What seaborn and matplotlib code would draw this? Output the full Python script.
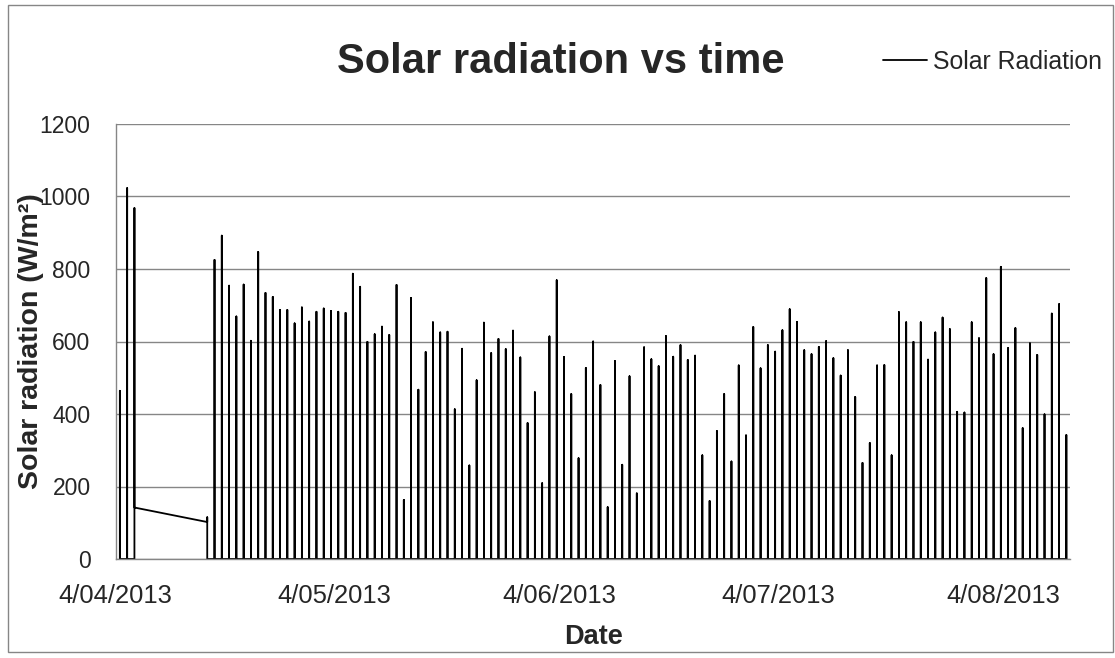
import pandas as pd
import matplotlib
matplotlib.use("Agg")
import matplotlib.pyplot as plt
from matplotlib.patches import Rectangle
import matplotlib.dates as mdates
import seaborn as sns

# ------------------------------ DATA ------------------------------
# daily peak solar radiation (W/m2)
early_dates = ["2013-04-04", "2013-04-05", "2013-04-06"]
early_peaks = [464, 1023, 968]
last_before_gap = 142            # last logged value on 6 April
restart_date = "2013-04-16"
restart_values = [102, 115, 0]   # logger comes back on 16 April

run_start = "2013-04-17"
run_peaks = [
    # April 17-30
    825, 892, 754, 669, 757, 602, 847, 734, 723, 687, 687, 650, 694, 655,
    # May
    682, 691, 684, 682, 679, 787, 751, 599, 620, 641, 618, 756, 163, 720,
    467, 571, 653, 625, 627, 413, 580, 258, 493, 652, 568, 607, 579, 630,
    556, 375, 460,
    # June
    209, 614, 769, 557, 455, 278, 527, 600, 480, 143, 546, 260, 504, 181,
    584, 551, 532, 615, 558, 590, 549, 561, 286, 160, 353, 455, 269, 534,
    341, 640,
    # July
    526, 590, 572, 631, 689, 654, 576, 565, 585, 601, 554, 506, 576, 447,
    265, 320, 534, 535, 286, 681, 653, 599, 653, 550, 625, 666, 634, 406,
    404, 653, 609,
    # August 1-12
    775, 565, 806, 582, 637, 361, 595, 563, 399, 677, 703, 342,
]

tick_dates = ["2013-04-04", "2013-05-04", "2013-06-04", "2013-07-04", "2013-08-04"]
tick_labels = ["4/04/2013", "4/05/2013", "4/06/2013", "4/07/2013", "4/08/2013"]
y_ticks = [0, 200, 400, 600, 800, 1000, 1200]

# ---------------------- BUILD THE LONG SERIES ----------------------
# Excel's date axis puts every reading of one day at the same x,
# so each day becomes a vertical stroke 0 -> peak -> 0
day_pos = pd.Timedelta(hours=14.4)
rows = []
for d, p in zip(early_dates, early_peaks):
    t = pd.Timestamp(d) + day_pos
    end = last_before_gap if d == early_dates[-1] else 0
    rows += [(t, 0), (t, p), (t, end)]

t = pd.Timestamp(restart_date) + day_pos
rows += [(t, v) for v in restart_values]

run_dates = pd.date_range(run_start, periods=len(run_peaks), freq="D")
for d, p in zip(run_dates, run_peaks):
    t = d + day_pos
    rows += [(t, 0), (t, p), (t, 0)]

df = pd.DataFrame(rows, columns=["time", "radiation"])

# ------------------------------ PLOT ------------------------------
sns.set_style("white")
plt.rcParams["font.family"] = ["Liberation Sans", "DejaVu Sans"]

grey = "#868686"
W, H = 1115, 658
fig = plt.figure(figsize=(W / 100, H / 100), dpi=100)
ax = fig.add_axes([115.5 / W, 1 - 559 / H, (1070 - 115.5) / W, (559 - 124) / H])

sns.lineplot(data=df, x="time", y="radiation", sort=False, estimator=None,
             color="black", linewidth=1.3, ax=ax, label="Solar Radiation")

ax.set_ylim(0, 1200)
ax.set_yticks(y_ticks)
x0 = pd.Timestamp("2013-04-04")
ax.set_xlim(x0, x0 + pd.Timedelta(days=131.1))
ax.set_xticks(mdates.date2num(pd.to_datetime(tick_dates)))
ax.set_xticklabels(tick_labels)

ax.yaxis.grid(True, color=grey, linewidth=1.0)
ax.xaxis.grid(False)
ax.set_axisbelow(True)
for side in ["top", "right"]:
    ax.spines[side].set_visible(False)
for side in ["left", "bottom"]:
    ax.spines[side].set_color(grey)
    ax.spines[side].set_linewidth(1.0)

ax.tick_params(axis="y", length=6, width=1, color=grey, pad=12, labelsize=16.5)
ax.tick_params(axis="x", length=4.5, width=1, color=grey, pad=13.5, labelsize=18.4)
ax.set_xlabel("")
ax.set_ylabel("")

fig.text(560.5 / W, 1 - 73 / H, "Solar radiation vs time", ha="center",
         va="baseline", fontsize=30, fontweight="bold")
fig.text(31 / W, 1 - 341.5 / H, "Solar radiation (W/m²)", rotation=90,
         ha="center", va="center", fontsize=20.5, fontweight="bold")
fig.text(593 / W, 1 - 637 / H, "Date", ha="center", va="center",
         fontsize=19.5, fontweight="bold")

ax.legend(loc="center left", bbox_to_anchor=(883 / W, 1 - 62 / H),
          bbox_transform=fig.transFigure, frameon=False, fontsize=17.9,
          handlelength=1.77, handletextpad=0.25, borderpad=0, borderaxespad=0)

# chart area border
fig.patches.append(Rectangle((8 / W, 1 - 652 / H), (1113 - 8) / W, (652 - 5) / H,
                             transform=fig.transFigure, fill=False,
                             edgecolor=grey, linewidth=1.0))

fig.savefig("out.png", dpi=100)
